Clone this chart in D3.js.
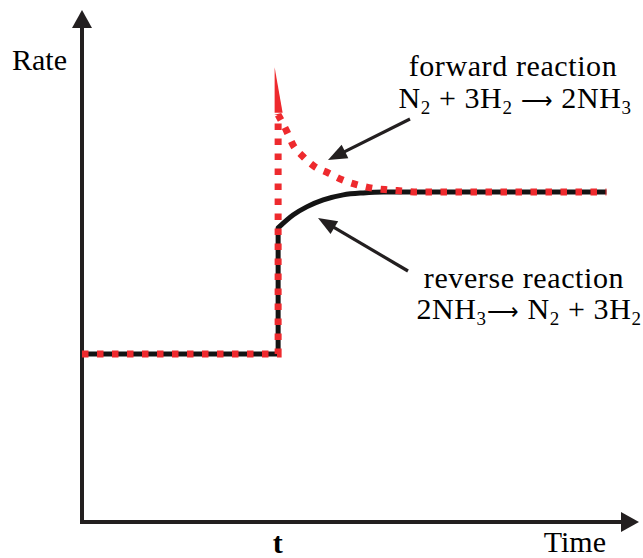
<!DOCTYPE html>
<html>
<head>
<meta charset="utf-8">
<script src="https://cdn.jsdelivr.net/npm/d3@7"></script>
<style>
  body { margin: 0; background: #fff; }
  svg { display: block; }
</style>
</head>
<body>
<svg id="chart" width="643" height="558"></svg>
<script>
// Reaction rates before and after the disturbance applied at time t
const tChange = 5;
const lowTime = [0, 5];
const lowRate = [3, 3];
const forwardTime = [5, 5.23, 5.38, 5.64, 5.94, 6.28, 6.63, 7.02, 7.40, 7.78, 8.16, 8.55, 13.37];
const forwardRate = [7.27, 6.96, 6.73, 6.52, 6.34, 6.23, 6.11, 6.02, 5.96, 5.93, 5.91, 5.89, 5.89];
const reverseTime = [5, 5.38, 5.74, 6.15, 6.66, 7.17, 7.68, 13.37];
const reverseRate = [5.25, 5.48, 5.63, 5.75, 5.84, 5.875, 5.89, 5.89];
const forwardPeak = 8.12;          // instantaneous forward rate at t
const xTickValues = [tChange];
const xTickLabels = ["t"];
const axisTitles = ["Time", "Rate"];

const svg = d3.select("#chart");
const font = "'Liberation Serif', 'Times New Roman', serif";
const ink = "#231f20";
const red = "#ee2a2e";

const x = d3.scaleLinear().domain([0, 14.2]).range([82, 639]);
const y = d3.scaleLinear().domain([0, 9.14]).range([522, 10]);

// ---- axes with arrowheads ----
const [x0, x1] = x.range();
const [y0, y1] = y.range();
const headLen = 18, headHalf = 10;
svg.append("line")
  .attr("x1", x0).attr("y1", y0).attr("x2", x1 - headLen + 2).attr("y2", y0)
  .attr("stroke", ink).attr("stroke-width", 4);
svg.append("path")
  .attr("d", `M${x1},${y0} L${x1 - headLen},${y0 - headHalf} L${x1 - headLen},${y0 + headHalf} Z`)
  .attr("fill", ink);
svg.append("line")
  .attr("x1", x0).attr("y1", y0 + 2).attr("x2", x0).attr("y2", y1 + headLen - 2)
  .attr("stroke", ink).attr("stroke-width", 4);
svg.append("path")
  .attr("d", `M${x0},${y1} L${x0 - headHalf},${y1 + headLen} L${x0 + headHalf},${y1 + headLen} Z`)
  .attr("fill", ink);

// tick label "t" via d3 axis (no domain, no tick lines)
const xAxis = d3.axisBottom(x)
  .tickValues(xTickValues)
  .tickFormat((d, i) => xTickLabels[i])
  .tickSize(0)
  .tickPadding(10);
const gx = svg.append("g").attr("transform", `translate(0,${y0})`).call(xAxis);
gx.select(".domain").remove();
gx.selectAll("text")
  .attr("font-family", font).attr("font-size", 30).attr("font-weight", "bold")
  .attr("fill", "#000").attr("dy", "0.71em").attr("dx", -1);

// axis titles
svg.append("text").attr("x", 606).attr("y", 552).attr("text-anchor", "end")
  .attr("font-family", font).attr("font-size", 30).attr("fill", "#000")
  .text(axisTitles[0]);
svg.append("text").attr("x", 12).attr("y", 70)
  .attr("font-family", font).attr("font-size", 30).attr("fill", "#000")
  .text(axisTitles[1]);

// ---- rate curves ----
const straight = d3.line().x(d => x(d[0])).y(d => y(d[1])).curve(d3.curveLinear);
const smooth = d3.line().x(d => x(d[0])).y(d => y(d[1])).curve(d3.curveMonotoneX);

function ratePath(times, rates) {
  const lowPts = lowTime.map((t, i) => [t, lowRate[i]]);
  lowPts.push([times[0], rates[0]]);
  const curvePts = times.map((t, i) => [t, rates[i]]);
  return straight(lowPts) + smooth(curvePts).replace(/^M/, "L");
}

// reverse reaction: solid black
svg.append("path")
  .attr("d", ratePath(reverseTime, reverseRate))
  .attr("fill", "none").attr("stroke", "#141414").attr("stroke-width", 5)
  .attr("stroke-linejoin", "round");

// forward reaction: dotted red
svg.append("path")
  .attr("d", ratePath(forwardTime, forwardRate))
  .attr("fill", "none").attr("stroke", red).attr("stroke-width", 7)
  .attr("stroke-dasharray", "6.5,8.5")
  .attr("stroke-linejoin", "miter");

// sharp peak of the forward rate at t
const xt = x(tChange);
svg.append("path")
  .attr("d", `M${xt - 3.5},${y(forwardPeak)} L${xt - 3.5},${y(forwardRate[0]) - 2} L${xt + 4.5},${y(forwardRate[0]) - 2} Z`)
  .attr("fill", red);

// ---- annotations ----
function arrow(xa, ya, xb, yb) {
  const ang = Math.atan2(yb - ya, xb - xa);
  const L = 19, H = 7.5;
  const bx = xb - L * Math.cos(ang), by = yb - L * Math.sin(ang);
  svg.append("line").attr("x1", xa).attr("y1", ya).attr("x2", bx + 2 * Math.cos(ang)).attr("y2", by + 2 * Math.sin(ang))
    .attr("stroke", ink).attr("stroke-width", 3.2);
  const px = -Math.sin(ang) * H, py = Math.cos(ang) * H;
  svg.append("path")
    .attr("d", `M${xb},${yb} L${bx + px},${by + py} L${bx - px},${by - py} Z`)
    .attr("fill", ink);
}
arrow(410, 119, 328, 160);
arrow(408, 271, 318, 218);

// labels with chemical subscripts; parts are plain text, {sub: "..."} or {arrow: "..."}
function label(cx, cy, parts) {
  const t = svg.append("text").attr("x", cx).attr("y", cy).attr("text-anchor", "middle")
    .attr("font-family", font).attr("font-size", 30).attr("letter-spacing", 0.6)
    .attr("fill", "#000");
  let lowered = false;
  parts.forEach(p => {
    if (typeof p === "string") {
      const s = t.append("tspan").text(p);
      if (lowered) { s.attr("dy", -6); lowered = false; }
    } else if (p.sub) {
      t.append("tspan").attr("font-size", 19).attr("dy", 6).text(p.sub);
      lowered = true;
    } else {
      const s = t.append("tspan").attr("font-size", 22).text(p.arrow);
      if (lowered) { s.attr("dy", -6); lowered = false; }
    }
  });
}
label(513, 76, ["forward reaction"]);
label(515, 108, ["N", {sub: "2"}, " + 3H", {sub: "2"}, " ", {arrow: "\u27f6"}, " 2NH", {sub: "3"}]);
label(524, 288, ["reverse reaction"]);
label(529, 319, ["2NH", {sub: "3"}, {arrow: "\u27f6"}, " N", {sub: "2"}, " + 3H", {sub: "2"}]);
</script>
</body>
</html>
